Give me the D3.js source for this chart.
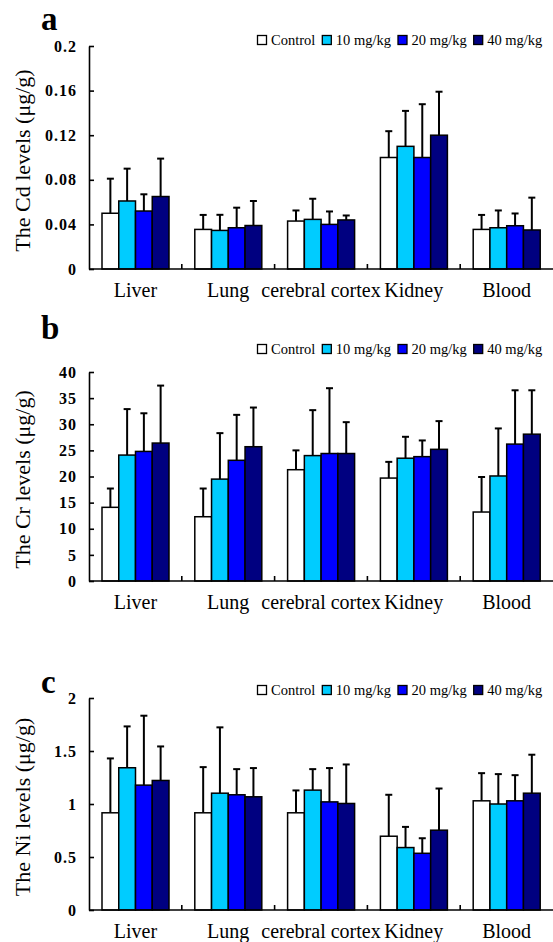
<!DOCTYPE html>
<html>
<head>
<meta charset="utf-8">
<script src="https://cdn.jsdelivr.net/npm/d3@7"></script>
<style>
  body { margin: 0; background: #fff; }
  svg text { font-family: "Liberation Serif", "Times New Roman", serif; fill: #000; }
</style>
</head>
<body>
<svg id="chart" width="553" height="942"></svg>
<script>
const organs = ['Liver', 'Lung', 'cerebral cortex', 'Kidney', 'Blood'];
const groups = ['Control', '10 mg/kg', '20 mg/kg', '40 mg/kg'];
const colours = ['#ffffff', '#00ccff', '#0000ff', '#000080'];

// rows = organs, cols = groups; err = upper error bar length
const cdMean = [
    [0.050, 0.061, 0.052, 0.065],
    [0.0355, 0.0346, 0.037, 0.039],
    [0.043, 0.0445, 0.040, 0.044],
    [0.100, 0.110, 0.100, 0.120],
    [0.0355, 0.037, 0.0388, 0.035]
];
const cdErr = [
    [0.031, 0.029, 0.015, 0.034],
    [0.013, 0.014, 0.018, 0.022],
    [0.0095, 0.0185, 0.0116, 0.004],
    [0.0236, 0.0318, 0.0478, 0.039],
    [0.013, 0.0155, 0.011, 0.029]
];
const cdTicks = [0, 0.04, 0.08, 0.12, 0.16, 0.2];

const crMean = [
    [14.1, 24.1, 24.8, 26.4],
    [12.3, 19.5, 23.1, 25.7],
    [21.3, 24.0, 24.4, 24.4],
    [19.7, 23.5, 23.8, 25.2],
    [13.2, 20.1, 26.2, 28.1]
];
const crErr = [
    [3.6, 8.8, 7.3, 11.0],
    [5.4, 8.8, 8.7, 7.5],
    [3.7, 8.7, 12.5, 6.0],
    [3.1, 4.1, 3.1, 5.4],
    [6.7, 9.1, 10.3, 8.4]
];
const crTicks = [0, 5, 10, 15, 20, 25, 30, 35, 40];

const niMean = [
    [0.917, 1.342, 1.178, 1.222],
    [0.917, 1.102, 1.087, 1.068],
    [0.917, 1.131, 1.020, 1.005],
    [0.696, 0.589, 0.535, 0.753],
    [1.03, 1.0, 1.03, 1.102]
];
const niErr = [
    [0.513, 0.39, 0.655, 0.321],
    [0.431, 0.621, 0.242, 0.271],
    [0.211, 0.198, 0.319, 0.368],
    [0.391, 0.195, 0.142, 0.393],
    [0.261, 0.282, 0.242, 0.363]
];
const niTicks = [0, 0.5, 1, 1.5, 2];

const panels = [
    { letter: 'a', label: 'The Cd levels (μg/g)', mean: cdMean, err: cdErr, ticks: cdTicks, top: 46, bottom: 269, legendY: 40, letterY: 30 },
    { letter: 'b', label: 'The Cr levels (μg/g)', mean: crMean, err: crErr, ticks: crTicks, top: 372, bottom: 581, legendY: 349, letterY: 339 },
    { letter: 'c', label: 'The Ni levels (μg/g)', mean: niMean, err: niErr, ticks: niTicks, top: 698, bottom: 910, legendY: 690, letterY: 693 }
];

const svg = d3.select('#chart');
const left = 89, right = 553;
const serif = '"Liberation Serif", "Times New Roman", serif';

const x0 = d3.scaleBand().domain(organs).range([left, right]);
const x1 = d3.scaleBand().domain(groups).range([13, 80]);
const colour = d3.scaleOrdinal().domain(groups).range(colours);

panels.forEach(p => {
    const g = svg.append('g');
    const y = d3.scaleLinear()
        .domain([0, d3.max(p.ticks)])
        .range([p.bottom, p.top]);

    // panel letter
    g.append('text')
        .attr('x', 41)
        .attr('y', p.letterY)
        .style('font-size', '33px')
        .style('font-weight', 'bold')
        .text(p.letter);

    // y axis
    const yAxis = g.append('g')
        .attr('transform', `translate(${left},0)`)
        .attr('font-family', serif)
        .call(d3.axisLeft(y).tickValues(p.ticks).tickSize(-5).tickSizeOuter(0).tickPadding(12).tickFormat(d3.format('~g')));
    yAxis.select('.domain').attr('stroke-width', 1.6);
    yAxis.selectAll('.tick line').attr('stroke-width', 1.6);
    yAxis.selectAll('.tick text')
        .style('font-family', serif)
        .style('font-size', '16px')
        .style('font-weight', 'bold')
        .style('letter-spacing', '1px');

    g.append('text')
        .attr('transform', `translate(30,${(p.top + p.bottom) / 2 + 3}) rotate(-90)`)
        .attr('text-anchor', 'middle')
        .style('font-size', '22px')
        .text(p.label);

    // bars
    const rows = g.selectAll('.organ')
        .data(organs)
        .enter()
        .append('g')
        .attr('transform', d => `translate(${x0(d)},0)`);

    rows.each(function (organ, i) {
        const cells = groups.map((grp, j) => ({ grp, v: p.mean[i][j], e: p.err[i][j] }));
        const sel = d3.select(this);

        sel.selectAll('line.err')
            .data(cells)
            .enter()
            .append('line')
            .attr('x1', d => x1(d.grp) + x1.bandwidth() / 2)
            .attr('x2', d => x1(d.grp) + x1.bandwidth() / 2)
            .attr('y1', d => y(d.v))
            .attr('y2', d => y(d.v + d.e))
            .attr('stroke', '#000')
            .attr('stroke-width', 2);

        sel.selectAll('line.cap')
            .data(cells)
            .enter()
            .append('line')
            .attr('x1', d => x1(d.grp) + x1.bandwidth() / 2 - 3.5)
            .attr('x2', d => x1(d.grp) + x1.bandwidth() / 2 + 3.5)
            .attr('y1', d => y(d.v + d.e))
            .attr('y2', d => y(d.v + d.e))
            .attr('stroke', '#000')
            .attr('stroke-width', 2);

        sel.selectAll('rect')
            .data(cells)
            .enter()
            .append('rect')
            .attr('x', d => x1(d.grp))
            .attr('y', d => y(d.v))
            .attr('width', x1.bandwidth())
            .attr('height', d => y(0) - y(d.v))
            .attr('fill', d => colour(d.grp))
            .attr('stroke', '#000')
            .attr('stroke-width', 1.5);
    });

    // x axis
    g.append('line')
        .attr('x1', left)
        .attr('x2', right)
        .attr('y1', p.bottom)
        .attr('y2', p.bottom)
        .attr('stroke', '#000')
        .attr('stroke-width', 1.6);

    g.selectAll('line.xtick')
        .data(organs.slice(1))
        .enter()
        .append('line')
        .attr('x1', d => x0(d))
        .attr('x2', d => x0(d))
        .attr('y1', p.bottom)
        .attr('y2', p.bottom - 5)
        .attr('stroke', '#000')
        .attr('stroke-width', 1.6);

    g.selectAll('text.cat')
        .data(organs)
        .enter()
        .append('text')
        .attr('x', d => x0(d) + x0.bandwidth() / 2)
        .attr('y', p.bottom + 28)
        .attr('text-anchor', 'middle')
        .style('font-size', '20px')
        .text(d => d);

    // legend
    let lx = 257.5;
    groups.forEach(grp => {
        g.append('rect')
            .attr('x', lx)
            .attr('y', p.legendY - 4.5)
            .attr('width', 9)
            .attr('height', 9)
            .attr('fill', colour(grp))
            .attr('stroke', '#000')
            .attr('stroke-width', 1.3);
        const t = g.append('text')
            .attr('x', lx + 13.5)
            .attr('y', p.legendY + 5)
            .style('font-size', '14.5px')
            .text(grp);
        lx += 13.5 + t.node().getComputedTextLength() + 7;
    });
});
</script>
</body>
</html>
